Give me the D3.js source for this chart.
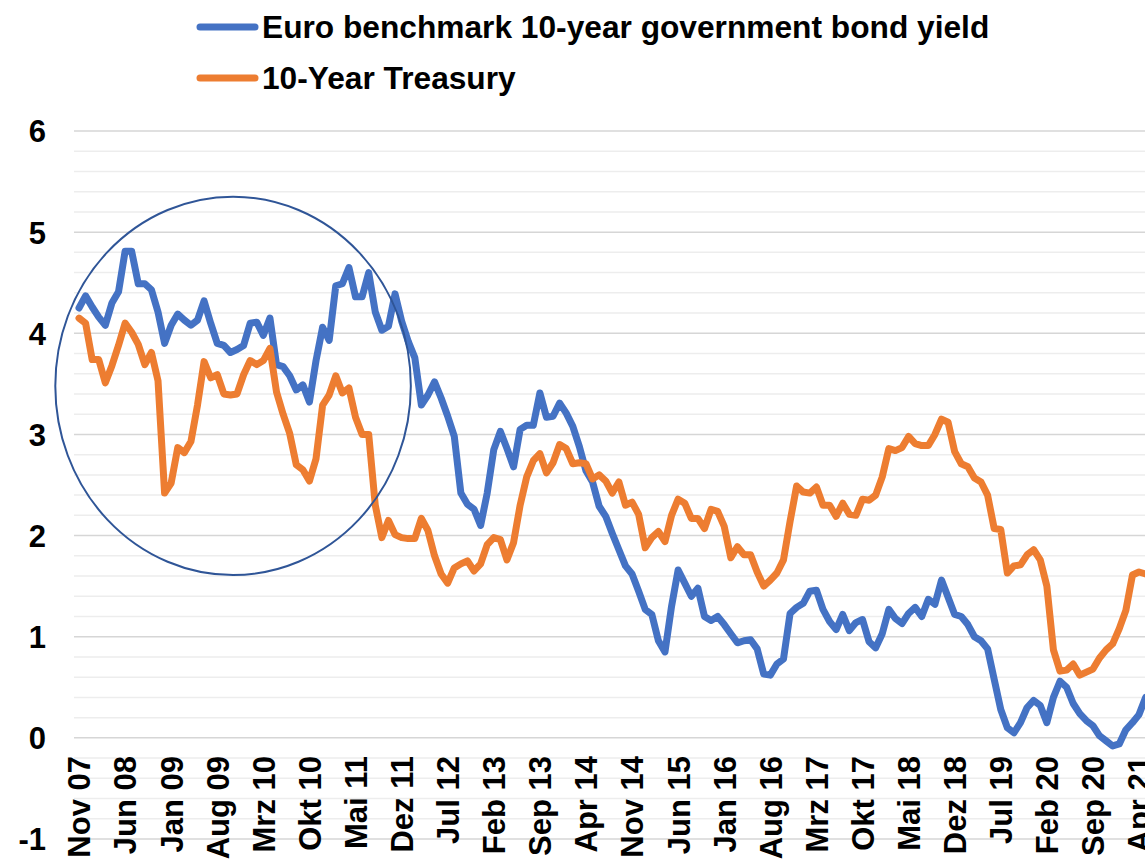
<!DOCTYPE html>
<html>
<head>
<meta charset="utf-8">
<script src="https://cdn.jsdelivr.net/npm/d3@7"></script>
<style>
  html, body { margin: 0; padding: 0; background: #fff; }
  svg { display: block; }
  text { font-family: "Liberation Sans", Arial, sans-serif; font-weight: bold; fill: #000; }
</style>
</head>
<body>
<svg id="chart" width="1145" height="862"></svg>
<script>
// ---------- data ----------
const monthNames = ["Jan","Feb","Mrz","Apr","Mai","Jun","Jul","Aug","Sep","Okt","Nov","Dez"];
const startYear = 2007, startMonth = 10, monthCount = 163; // Nov 07 .. Mai 21
const categories = [];
for (let k = 0; k < monthCount; k++) {
  const m = (startMonth + k) % 12;
  const yr = startYear + Math.floor((startMonth + k) / 12);
  categories.push(monthNames[m] + " " + String(yr % 100).padStart(2, "0"));
}

const tickLabels = ["Nov 07","Jun 08","Jan 09","Aug 09","Mrz 10","Okt 10","Mai 11","Dez 11",
  "Jul 12","Feb 13","Sep 13","Apr 14","Nov 14","Jun 15","Jan 16","Aug 16","Mrz 17","Okt 17",
  "Mai 18","Dez 18","Jul 19","Feb 20","Sep 20","Apr 21"];

const yTicks = [-1, 0, 1, 2, 3, 4, 5, 6];

const seriesNames = ["Euro benchmark 10-year government bond yield", "10-Year Treasury"];

const euroYield = [
  4.25,4.37,4.26,4.16,4.08,4.30,4.41,4.81,4.81,4.49,4.49,4.43,4.21,3.90,4.08,4.19,4.13,4.08,4.13,4.32,
  4.10,3.90,3.88,3.81,3.84,3.88,4.10,4.11,3.98,4.15,3.69,3.67,3.58,3.44,3.49,3.32,3.73,4.06,3.93,4.47,
  4.49,4.65,4.36,4.36,4.60,4.21,4.03,4.07,4.39,4.12,3.92,3.76,3.29,3.39,3.52,3.36,3.18,2.98,2.42,2.31,
  2.26,2.10,2.42,2.85,3.03,2.86,2.68,3.05,3.09,3.09,3.41,3.17,3.18,3.31,3.21,3.08,2.88,2.64,2.53,2.29,
  2.19,2.02,1.86,1.70,1.62,1.45,1.27,1.22,0.96,0.85,1.30,1.66,1.53,1.40,1.48,1.20,1.16,1.20,1.12,1.03,
  0.94,0.96,0.97,0.88,0.63,0.62,0.73,0.78,1.23,1.29,1.33,1.45,1.46,1.27,1.15,1.07,1.22,1.06,1.14,1.17,
  0.95,0.89,1.03,1.27,1.18,1.13,1.23,1.29,1.20,1.37,1.32,1.56,1.39,1.22,1.20,1.12,1.00,0.96,0.88,0.58,
  0.28,0.10,0.05,0.15,0.30,0.37,0.32,0.15,0.40,0.56,0.50,0.34,0.24,0.17,0.12,0.02,-0.03,-0.08,-0.06,0.08,
  0.15,0.23,0.40
];

const treasury = [
  4.15,4.10,3.74,3.74,3.51,3.68,3.88,4.10,4.01,3.89,3.69,3.81,3.53,2.42,2.52,2.87,2.82,2.93,3.29,3.72,
  3.56,3.59,3.40,3.39,3.40,3.59,3.73,3.69,3.73,3.85,3.42,3.20,3.01,2.70,2.65,2.54,2.76,3.29,3.39,3.58,
  3.41,3.46,3.17,3.00,3.00,2.30,1.98,2.15,2.01,1.98,1.97,1.97,2.17,2.05,1.80,1.62,1.53,1.68,1.72,1.75,
  1.65,1.72,1.91,1.98,1.96,1.76,1.93,2.30,2.58,2.74,2.81,2.62,2.72,2.90,2.86,2.71,2.72,2.71,2.56,2.60,
  2.54,2.42,2.53,2.30,2.33,2.21,1.88,1.98,2.04,1.94,2.20,2.36,2.32,2.17,2.17,2.07,2.26,2.24,2.09,1.78,
  1.89,1.81,1.81,1.64,1.50,1.56,1.63,1.76,2.14,2.49,2.43,2.42,2.48,2.30,2.30,2.19,2.32,2.21,2.20,2.36,
  2.35,2.40,2.58,2.86,2.84,2.87,2.98,2.91,2.89,2.89,3.00,3.15,3.12,2.83,2.71,2.68,2.57,2.53,2.40,2.07,
  2.06,1.63,1.70,1.71,1.81,1.86,1.76,1.50,0.87,0.66,0.67,0.73,0.62,0.65,0.68,0.79,0.87,0.93,1.08,1.26,
  1.61,1.64,1.62
];

// highlight ellipse, in data units (month index / yield)
const highlight = { centerMonth: 23.4, centerValue: 3.48, halfWidthMonths: 27.0, halfHeightValue: 1.87 };

// ---------- layout ----------
const W = 1145, H = 862;
const plotLeft = 74, plotRight = 1145;
const firstX = 79, monthStep = 6.584;
const colors = ["#4472C4", "#ED7D31"];

const svg = d3.select("#chart");
svg.append("rect").attr("width", W).attr("height", H).attr("fill", "#fff");

const x = d3.scalePoint()
  .domain(categories)
  .range([firstX, firstX + monthStep * (categories.length - 1)]);

const y = d3.scaleLinear().domain([-1, 6]).range([839, 131]);

const xIdx = d3.scaleLinear().domain([0, categories.length - 1]).range(x.range());

// gridlines
const minor = d3.range(-1, 6.0001, 0.2).map(v => +v.toFixed(1));
svg.append("g").selectAll("line")
  .data(minor)
  .join("line")
  .attr("x1", plotLeft).attr("x2", plotRight)
  .attr("y1", d => y(d)).attr("y2", d => y(d))
  .attr("stroke", d => Number.isInteger(d) ? "#d6d6d6" : "#ededed")
  .attr("stroke-width", 1.5);

// y axis labels
const yAxis = d3.axisLeft(y).tickValues(yTicks).tickSize(0).tickPadding(0).tickFormat(d => String(d));
const gy = svg.append("g").attr("transform", "translate(46,0)").call(yAxis);
gy.select(".domain").remove();
gy.selectAll("text")
  .attr("font-size", "31px")
  .attr("font-family", "Liberation Sans, Arial, sans-serif")
  .attr("font-weight", "bold")
  .attr("fill", "#000")
  .attr("x", 0)
  .attr("dy", "0.35em")
  .attr("text-anchor", "end");

// x axis labels (rotated)
const xAxis = d3.axisBottom(x).tickValues(tickLabels).tickSize(0).tickPadding(0);
const gx = svg.append("g").attr("transform", "translate(0,756)").call(xAxis);
gx.select(".domain").remove();
gx.selectAll(".tick text")
  .attr("font-size", "31px")
  .attr("font-family", "Liberation Sans, Arial, sans-serif")
  .attr("font-weight", "bold")
  .attr("fill", "#000")
  .attr("text-anchor", "end")
  .attr("transform", "rotate(-90)")
  .attr("x", 0)
  .attr("y", 0)
  .attr("dy", "0.35em");

// lines
const line = d3.line()
  .x((d, i) => x(categories[i]))
  .y(d => y(d));

[euroYield, treasury].forEach((series, k) => {
  svg.append("path")
    .datum(series)
    .attr("fill", "none")
    .attr("stroke", colors[k])
    .attr("stroke-width", 7)
    .attr("stroke-linejoin", "round")
    .attr("stroke-linecap", "round")
    .attr("d", line);
});

// highlight ellipse
svg.append("ellipse")
  .attr("cx", xIdx(highlight.centerMonth))
  .attr("cy", y(highlight.centerValue))
  .attr("rx", xIdx(highlight.halfWidthMonths) - xIdx(0))
  .attr("ry", y(0) - y(highlight.halfHeightValue))
  .attr("fill", "none")
  .attr("stroke", "#2F5597")
  .attr("stroke-width", 2);

// legend
const legend = svg.append("g");
const legendY = [27, 78];
seriesNames.forEach((name, k) => {
  legend.append("line")
    .attr("x1", 200).attr("x2", 255)
    .attr("y1", legendY[k]).attr("y2", legendY[k])
    .attr("stroke", colors[k])
    .attr("stroke-width", 7)
    .attr("stroke-linecap", "round");
  legend.append("text")
    .attr("x", 262)
    .attr("y", legendY[k])
    .attr("dy", "0.35em")
    .attr("font-size", "31.7px")
    .text(name);
});
</script>
</body>
</html>
